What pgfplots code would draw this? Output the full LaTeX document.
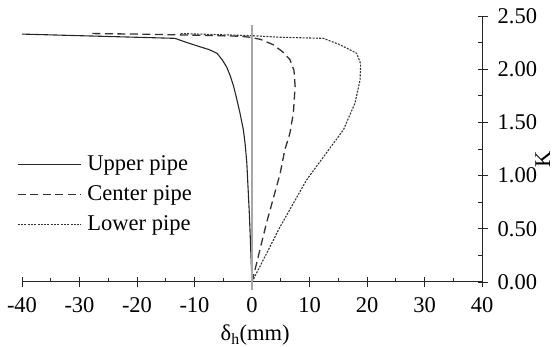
\documentclass[border=0pt]{standalone}
\usepackage{fontspec}
\setmainfont{Liberation Serif}
\usepackage{pgfplots}
\pgfplotsset{compat=1.18}
\begin{document}
\fontsize{22.5}{27}\selectfont
\begin{tikzpicture}
\useasboundingbox (-22pt,-65pt) rectangle (534pt,282pt);
\begin{axis}[
  scale only axis, width=460pt, height=266pt,
  xmin=-40, xmax=40, ymin=0, ymax=2.5,
  axis x line*=bottom, axis y line*=right,
  axis line style={black!85, line width=1pt},
  clip=false,
  xtick={-40,-30,-20,-10,0,10,20,30,40},
  xticklabels={-40,-30,-20,-10,0,10,20,30,40},
  ytick={0,0.5,1,1.5,2,2.5},
  yticklabels={0.00,0.50,1.00,1.50,2.00,2.50},
  minor x tick num=1, minor y tick num=1,
  tick align=inside,
  major tick length=10pt, minor tick length=4pt,
  tick style={black!85, line width=0.9pt},
  major x tick style={yshift=-5.5pt},
  major y tick style={xshift=5.5pt},
  xticklabel style={yshift=-8pt},
  yticklabel style={xshift=8pt},
  every axis x label/.style={at={(axis description cs:0.507,-0.199)}, anchor=center},
  every axis y label/.style={at={(axis description cs:1.132,0.462)}, anchor=center, rotate=90, inner sep=0pt},
  xlabel={δ\textsubscript{h}(mm)},
  ylabel={K},
  legend style={draw=none, fill=none, at={(axis description cs:-0.011,0.485)}, anchor=north west, inner sep=0pt, row sep=8pt, column sep=4pt, cells={anchor=west}},
  legend cell align=left,
  legend image code/.code={\draw[#1] (0pt,0pt) -- (63pt,0pt);},
]
\addplot[black!85, line width=1.1pt] coordinates {
(0,0) (-0.15,0.2) (-0.3,0.42) (-0.47,0.65) (-0.7,0.9) (-0.9,1.12) (-1.2,1.3) (-1.5,1.43) (-2.1,1.59) (-2.7,1.73) (-3.2,1.84) (-3.8,1.94) (-4.4,2.02) (-5.2,2.09) (-6.1,2.15) (-7.5,2.185) (-9.0,2.21) (-11.3,2.25) (-13.4,2.29) (-20,2.30) (-30,2.315) (-40,2.33)
};
\addlegendentry{Upper pipe}
\addplot[black!80, line width=1.3pt, dash pattern=on 8pt off 4.5pt] coordinates {
(0,0) (2.5,0.55) (4.9,1.02) (5.7,1.24) (6.6,1.40) (7.2,1.59) (7.5,1.84) (7.3,1.99) (6.6,2.09) (5.4,2.16) (3.7,2.23) (1.5,2.28) (-0.3,2.30) (-2.1,2.31) (-10,2.32) (-20,2.33) (-28,2.335)
};
\addlegendentry{Center pipe}
\addplot[black!80, line width=1.1pt, dash pattern=on 2pt off 1.3pt] coordinates {
(0,0) (4.9,0.52) (9.5,0.96) (13.3,1.24) (15.9,1.43) (17.9,1.68) (18.8,1.90) (18.9,2.05) (18.2,2.15) (15.3,2.23) (12.4,2.29) (5,2.30) (0,2.315) (-6,2.325) (-12.5,2.335)
};
\addlegendentry{Lower pipe}
\addplot[black!35, line width=2pt, forget plot] coordinates {(0,-0.075) (0,2.42)};
\end{axis}
\end{tikzpicture}
\end{document}
